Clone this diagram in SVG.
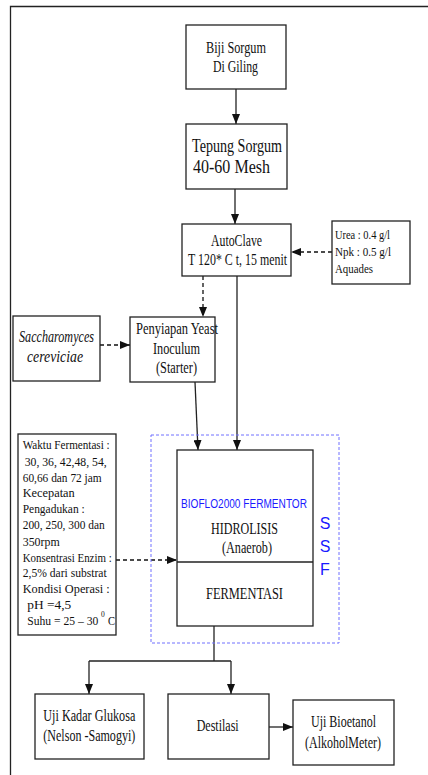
<svg xmlns="http://www.w3.org/2000/svg" width="428" height="775" viewBox="0 0 428 775">
<style>
.bx{fill:#fff;stroke:#222;stroke-width:1.3}
.ln{fill:none;stroke:#222;stroke-width:1.3}
.dl{fill:none;stroke:#111;stroke-width:1.3;stroke-dasharray:4,3}
.ssf{fill:none;stroke:#7070ff;stroke-width:1;stroke-dasharray:3,2}
.t{font-family:"Liberation Serif","Times New Roman",serif;fill:#111}
.s{font-size:13.5px}
.m{font-size:16.5px}
.l{font-size:19.5px}
.b{font-family:"Liberation Sans",Arial,sans-serif;fill:#1a1aff}
</style>
<defs>
<marker id="ah" markerUnits="userSpaceOnUse" markerWidth="10" markerHeight="8" refX="10" refY="4" orient="auto"><path d="M0,0 L10,4 L0,8 z" fill="#111"/></marker>
</defs>
<rect x="0" y="0" width="428" height="775" fill="#fff"/>
<g id="frame"><path class="ln" d="M10.5,775 V6.5 H428"/></g>
<g id="connectors">
<path class="ln" d="M236,89 V124" marker-end="url(#ah)"/>
<path class="ln" d="M235,189 V224" marker-end="url(#ah)"/>
<path class="dl" d="M332,252 H291" marker-end="url(#ah)"/>
<path class="dl" d="M203,276 V317" marker-end="url(#ah)"/>
<path class="dl" d="M100,345 H130" marker-end="url(#ah)"/>
<path class="ln" d="M195,382 L198,450" marker-end="url(#ah)"/>
<path class="ln" d="M237,276 V450" marker-end="url(#ah)"/>
<path class="dl" d="M116,560 H177" marker-end="url(#ah)"/>
<path class="ln" d="M214,626 V661"/>
<path class="ln" d="M89,661 H231"/>
<path class="ln" d="M89,661 V694" marker-end="url(#ah)"/>
<path class="ln" d="M231,661 V694" marker-end="url(#ah)"/>
<path class="ln" d="M269,727 H293" marker-end="url(#ah)"/>
</g>
<g id="biji">
<rect class="bx" x="186" y="25" width="100" height="64"/>
<text class="t m" x="206" y="53" textLength="60" lengthAdjust="spacingAndGlyphs">Biji Sorgum</text>
<text class="t m" x="213" y="72" textLength="45" lengthAdjust="spacingAndGlyphs">Di Giling</text>
</g>
<g id="tepung">
<rect class="bx" x="186" y="124" width="101" height="65"/>
<text class="t l" x="192" y="152" textLength="90" lengthAdjust="spacingAndGlyphs">Tepung Sorgum</text>
<text class="t l" x="193" y="173" textLength="77" lengthAdjust="spacingAndGlyphs">40-60 Mesh</text>
</g>
<g id="autoclave">
<rect class="bx" x="182" y="224" width="109" height="52"/>
<text class="t m" x="211" y="246" textLength="51" lengthAdjust="spacingAndGlyphs">AutoClave</text>
<text class="t m" x="188" y="265" textLength="99" lengthAdjust="spacingAndGlyphs">T 120* C t, 15 menit</text>
</g>
<g id="urea">
<rect class="bx" x="332" y="221" width="78" height="63"/>
<text class="t s" x="335" y="239" textLength="55" lengthAdjust="spacingAndGlyphs">Urea : 0.4 g/l</text>
<text class="t s" x="335" y="256" textLength="56" lengthAdjust="spacingAndGlyphs">Npk  : 0.5 g/l</text>
<text class="t s" x="335" y="273" textLength="38" lengthAdjust="spacingAndGlyphs">Aquades</text>
</g>
<g id="sacch">
<rect class="bx" x="13" y="316" width="87" height="65"/>
<text class="t m" x="19" y="342" font-style="italic" textLength="75" lengthAdjust="spacingAndGlyphs">Saccharomyces</text>
<text class="t m" x="27" y="362" font-style="italic" textLength="56" lengthAdjust="spacingAndGlyphs">cereviciae</text>
</g>
<g id="penyiapan">
<rect class="bx" x="130" y="317" width="85" height="65"/>
<text class="t m" x="136" y="334" textLength="82" lengthAdjust="spacingAndGlyphs">Penyiapan Yeast</text>
<text class="t m" x="153" y="354" textLength="47" lengthAdjust="spacingAndGlyphs">Inoculum</text>
<text class="t m" x="156" y="373" textLength="41" lengthAdjust="spacingAndGlyphs">(Starter)</text>
</g>
<g id="params">
<rect class="bx" x="18" y="434" width="98" height="201"/>
<text class="t s" x="22.7" y="449" textLength="87" lengthAdjust="spacingAndGlyphs">Waktu Fermentasi :</text>
<text class="t s" x="24.7" y="466" textLength="82" lengthAdjust="spacingAndGlyphs">30, 36, 42,48, 54,</text>
<text class="t s" x="22.7" y="482" textLength="79" lengthAdjust="spacingAndGlyphs">60,66 dan 72 jam</text>
<text class="t s" x="22.7" y="497" textLength="52" lengthAdjust="spacingAndGlyphs">Kecepatan</text>
<text class="t s" x="22.7" y="513" textLength="62" lengthAdjust="spacingAndGlyphs">Pengadukan :</text>
<text class="t s" x="22.7" y="529" textLength="82" lengthAdjust="spacingAndGlyphs">200, 250, 300 dan</text>
<text class="t s" x="22.7" y="546" textLength="37" lengthAdjust="spacingAndGlyphs">350rpm</text>
<text class="t s" x="22.7" y="562" textLength="89" lengthAdjust="spacingAndGlyphs">Konsentrasi Enzim :</text>
<text class="t s" x="22.7" y="577" textLength="84" lengthAdjust="spacingAndGlyphs">2,5% dari substrat</text>
<text class="t s" x="22.7" y="593" textLength="87" lengthAdjust="spacingAndGlyphs">Kondisi Operasi   :</text>
<text class="t s" x="27.3" y="609" textLength="44" lengthAdjust="spacingAndGlyphs">pH   =4,5</text>
<text class="t s" x="27.3" y="625" textLength="71" lengthAdjust="spacingAndGlyphs">Suhu = 25 – 30</text>
<text class="t" x="101" y="617" font-size="7.5">0</text>
<text class="t s" x="108" y="625" textLength="7" lengthAdjust="spacingAndGlyphs">C</text>
</g>
<g id="ssf">
<rect class="ssf" x="151" y="435" width="188" height="208"/>
<text class="b" x="325" y="529" font-size="16" text-anchor="middle">S</text>
<text class="b" x="325" y="552" font-size="16" text-anchor="middle">S</text>
<text class="b" x="325" y="575" font-size="16" text-anchor="middle">F</text>
</g>
<g id="fermentor">
<rect class="bx" x="177" y="450" width="136" height="176"/>
<path class="ln" d="M177,562 H313"/>
<text class="b" x="181" y="508" font-size="12.5" textLength="126" lengthAdjust="spacingAndGlyphs">BIOFLO2000 FERMENTOR</text>
<text class="t m" x="211" y="534" textLength="67" lengthAdjust="spacingAndGlyphs">HIDROLISIS</text>
<text class="t m" x="222" y="553" textLength="50" lengthAdjust="spacingAndGlyphs">(Anaerob)</text>
<text class="t m" x="206" y="599" textLength="77" lengthAdjust="spacingAndGlyphs">FERMENTASI</text>
</g>
<g id="glukosa">
<rect class="bx" x="35" y="694" width="109" height="65"/>
<text class="t m" x="43.3" y="721" textLength="92" lengthAdjust="spacingAndGlyphs">Uji Kadar Glukosa</text>
<text class="t m" x="43.3" y="741" textLength="92" lengthAdjust="spacingAndGlyphs">(Nelson -Samogyi)</text>
</g>
<g id="destilasi">
<rect class="bx" x="168" y="694" width="101" height="65"/>
<text class="t m" x="196.7" y="731" textLength="42" lengthAdjust="spacingAndGlyphs">Destilasi</text>
</g>
<g id="bioetanol">
<rect class="bx" x="293" y="700" width="101" height="65"/>
<text class="t m" x="311" y="727" textLength="65" lengthAdjust="spacingAndGlyphs">Uji Bioetanol</text>
<text class="t m" x="305" y="748" textLength="76" lengthAdjust="spacingAndGlyphs">(AlkoholMeter)</text>
</g>
</svg>
